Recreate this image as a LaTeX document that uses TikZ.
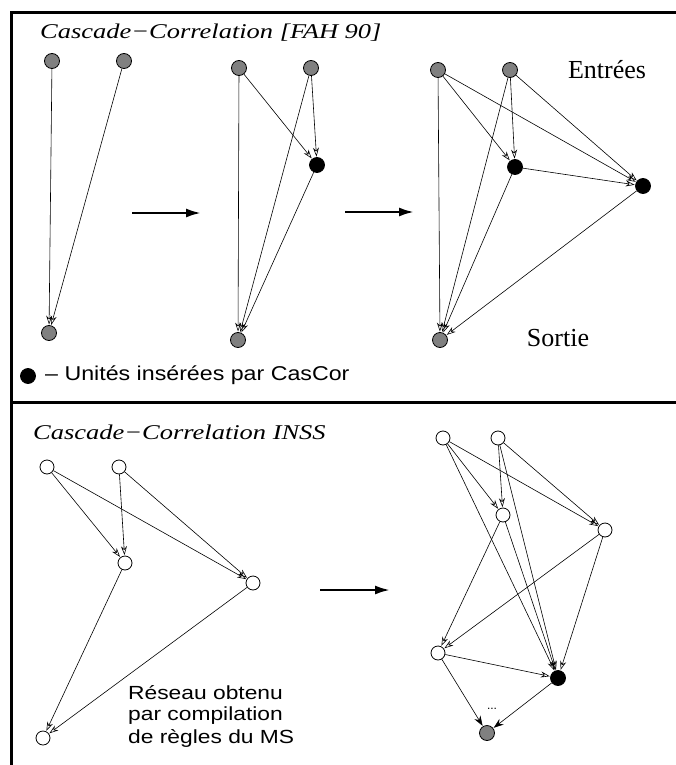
\documentclass[tikz,border=0pt]{standalone}
\usepackage{fontspec}
\usepackage{graphicx}
\setmainfont{Liberation Serif}
\newfontfamily\helvfont{Liberation Sans}
\usetikzlibrary{arrows.meta}
\definecolor{nodegray}{RGB}{128,128,128}
\newcommand{\hscaletext}[2]{\scalebox{#1}[1]{#2}}
\begin{document}
\begin{tikzpicture}[x=1pt,y=-1pt,
  unit/.style={circle, draw=black, line width=0.8pt, minimum size=15pt, inner sep=0pt},
  grayunit/.style={unit, fill=nodegray},
  blackunit/.style={unit, fill=black},
  whiteunit/.style={unit, fill=white, minimum size=14pt},
  conn/.style={line width=0.6pt, -{Stealth[open,length=9pt,width=6pt]}, shorten >=0.5pt},
  fconn/.style={line width=0.6pt, -{Stealth[length=10pt,width=7pt]}, shorten >=0.5pt},
  bigarrow/.style={line width=2.4pt, -{Latex[length=15pt,width=9pt]}},
  frameline/.style={line width=3pt},
  titletext/.style={font=\fontsize{21}{24}\selectfont\itshape, anchor=west, inner sep=0pt},
  seriflabel/.style={font=\fontsize{26}{30}\selectfont, inner sep=0pt},
  sanstext/.style={font=\helvfont\fontsize{20}{23}\selectfont, anchor=west, inner sep=0pt},
  smallsans/.style={font=\helvfont\fontsize{19}{23}\selectfont, anchor=west, inner sep=0pt}
]
\useasboundingbox (0,0) rectangle (676,765);
\fill[white] (0,0) rectangle (676,765);

% frame
\coordinate (ftl) at (11,13);
\coordinate (ftr) at (676,13);
\coordinate (fbl) at (11,765);
\coordinate (sepl) at (11,402);
\coordinate (sepr) at (676,402);
\draw[frameline] (ftr) -- (ftl) -- (fbl);
\draw[frameline] (sepl) -- (sepr);

% titles
\node[titletext] (title1) at (40,33) {\hscaletext{1.26}{Cascade−Correlation [FAH 90]}};
\node[titletext] (title2) at (33,432) {\hscaletext{1.26}{Cascade−Correlation INSS}};

% network A
\node[grayunit] (a1) at (52,61) {};
\node[grayunit] (a2) at (124,61) {};
\node[grayunit] (a3) at (49,333) {};
\draw[conn] (a1) -- (a3);
\draw[conn] (a2) -- (a3);

% arrow 1
\coordinate (ar1s) at (132,213);
\coordinate (ar1e) at (201,213);
\draw[bigarrow] (ar1s) -- (ar1e);

% network B
\node[grayunit] (b1) at (239,68) {};
\node[grayunit] (b2) at (311,68) {};
\node[blackunit] (b3) at (317,165) {};
\node[grayunit] (b4) at (238,340) {};
\draw[conn] (b1) -- (b3);
\draw[conn] (b2) -- (b3);
\draw[conn] (b1) -- (b4);
\draw[conn] (b2) -- (b4);
\draw[conn] (b3) -- (b4);

% arrow 2
\coordinate (ar2s) at (345,212);
\coordinate (ar2e) at (414,212);
\draw[bigarrow] (ar2s) -- (ar2e);

% network C
\node[grayunit] (c1) at (438,70) {};
\node[grayunit] (c2) at (510,70) {};
\node[blackunit] (c3) at (515,167) {};
\node[blackunit] (c4) at (643,186) {};
\node[grayunit] (c5) at (440,340) {};
\draw[conn] (c1) -- (c3);
\draw[conn] (c2) -- (c3);
\draw[conn] (c1) -- (c4);
\draw[conn] (c2) -- (c4);
\draw[conn] (c3) -- (c4);
\draw[conn] (c1) -- (c5);
\draw[conn] (c2) -- (c5);
\draw[conn] (c3) -- (c5);
\draw[conn] (c4) -- (c5);

\node[seriflabel] (entrees) at (607,70) {Entrées};
\node[seriflabel] (sortie) at (558,338) {Sortie};

% legend
\node[blackunit] (legdot) at (28,376) {};
\node[sanstext] (legtext) at (45,375) {\hscaletext{1.16}{– Unités insérées par CasCor}};

% network D
\node[whiteunit] (d1) at (47,467) {};
\node[whiteunit] (d2) at (119,467) {};
\node[whiteunit] (d3) at (125,563) {};
\node[whiteunit] (d4) at (253,583) {};
\node[whiteunit] (d5) at (43,738) {};
\draw[conn] (d1) -- (d3);
\draw[conn] (d2) -- (d3);
\draw[conn] (d1) -- (d4);
\draw[conn] (d2) -- (d4);
\draw[conn] (d3) -- (d5);
\draw[conn] (d4) -- (d5);

\node[smallsans] (res1) at (128,693) {\hscaletext{1.2}{Réseau obtenu}};
\node[smallsans] (res2) at (128,716) {\hscaletext{1.2}{par compilation}};
\node[smallsans] (res3) at (128,738) {\hscaletext{1.2}{de règles du MS}};

% arrow 3
\coordinate (ar3s) at (320,590);
\coordinate (ar3e) at (390,590);
\draw[bigarrow] (ar3s) -- (ar3e);

% network E
\node[whiteunit] (e1) at (443,438) {};
\node[whiteunit] (e2) at (498,438) {};
\node[whiteunit] (e3) at (503,515) {};
\node[whiteunit] (e4) at (605,530) {};
\node[whiteunit] (e5) at (438,653) {};
\node[blackunit] (e6) at (558,678) {};
\node[grayunit] (e7) at (487,733) {};
\draw[conn] (e1) -- (e3);
\draw[conn] (e2) -- (e3);
\draw[conn] (e1) -- (e4);
\draw[conn] (e2) -- (e4);
\draw[conn] (e1) -- (e6);
\draw[conn] (e2) -- (e6);
\draw[conn] (e3) -- (e6);
\draw[conn] (e4) -- (e6);
\draw[conn] (e3) -- (e5);
\draw[conn] (e4) -- (e5);
\draw[conn] (e5) -- (e6);
\draw[fconn] (e5) -- (e7);
\draw[fconn] (e6) -- (e7);
\node[font=\helvfont\fontsize{12}{14}\selectfont, inner sep=0pt] (dots) at (492,709) {...};
\end{tikzpicture}
\end{document}
